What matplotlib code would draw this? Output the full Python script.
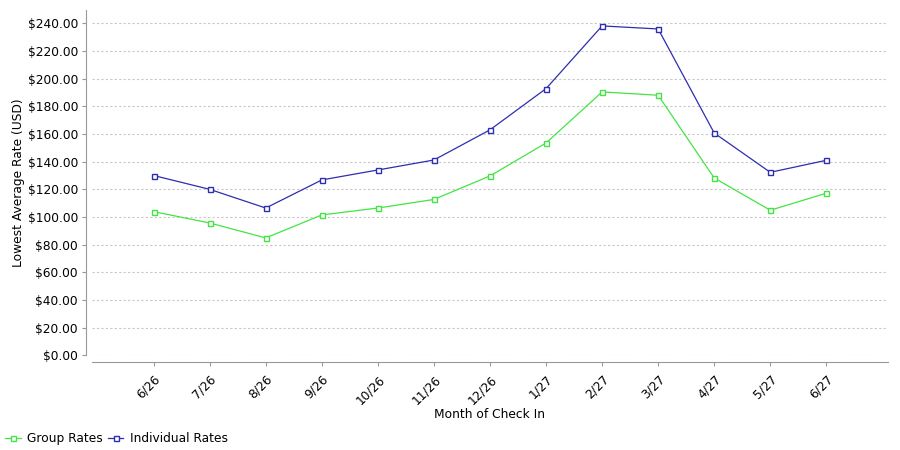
import matplotlib
matplotlib.use("Agg")
import matplotlib.pyplot as plt
from matplotlib.ticker import FuncFormatter

# data
months = ["6/26", "7/26", "8/26", "9/26", "10/26", "11/26", "12/26",
          "1/27", "2/27", "3/27", "4/27", "5/27", "6/27"]
group_rates = [103.9, 95.7, 84.9, 101.5, 106.5, 112.7, 129.7,
               153.5, 190.4, 188.0, 128.2, 104.9, 117.2]
individual_rates = [130.0, 120.0, 106.5, 126.8, 134.0, 141.2, 163.0,
                    192.8, 238.1, 235.9, 160.7, 132.3, 141.0]

green = "#44e444"
blue = "#2e2eb0"
fs = 8.8

fig = plt.figure(figsize=(9, 4.5), dpi=100)
ax = fig.add_axes([92/900, 1 - 355.4/450, 796/900, 345.4/450])

# spines first: set_position resets the tick objects
for s in ["top", "right"]:
    ax.spines[s].set_visible(False)
ax.spines["left"].set_position(("outward", 4))
ax.spines["bottom"].set_position(("outward", 4.5))
ax.spines["left"].set_color("#999999")
ax.spines["bottom"].set_color("#999999")

x = list(range(len(months)))
ax.plot(x, group_rates, color=green, lw=0.9, marker="s", ms=3.6,
        mfc="white", mec=green, mew=1, label="Group Rates")
ax.plot(x, individual_rates, color=blue, lw=0.9, marker="s", ms=3.6,
        mfc="white", mec=blue, mew=1, label="Individual Rates")

ax.set_xlim(-1.1, len(months) - 1 + 1.1)
ax.set_ylim(0, 249.6)
ax.set_yticks(range(0, 241, 20))
ax.yaxis.set_major_formatter(FuncFormatter(lambda v, p: "${:.2f}".format(v)))
ax.set_xticks(x)
ax.set_xticklabels(months, rotation=45, ha="right", va="top",
                   rotation_mode="anchor", fontsize=fs)
ax.tick_params(axis="y", labelsize=fs, length=3, color="#999999", pad=3)
ax.tick_params(axis="x", length=3, color="#999999", pad=5)

ax.grid(axis="y", color="#c8c8c8", linestyle=(0, (2, 2)), lw=0.8)
ax.set_axisbelow(True)

ax.set_xlabel("Month of Check In", fontsize=fs, labelpad=1)
ax.set_ylabel("Lowest Average Rate (USD)", fontsize=fs, labelpad=2)

fig.legend(loc="lower left", bbox_to_anchor=(-0.004, -0.008), ncol=2,
           frameon=False, fontsize=fs, handlelength=1.3, handletextpad=0.5,
           columnspacing=0.4, borderaxespad=0.3)

fig.savefig("out.png", dpi=100)
